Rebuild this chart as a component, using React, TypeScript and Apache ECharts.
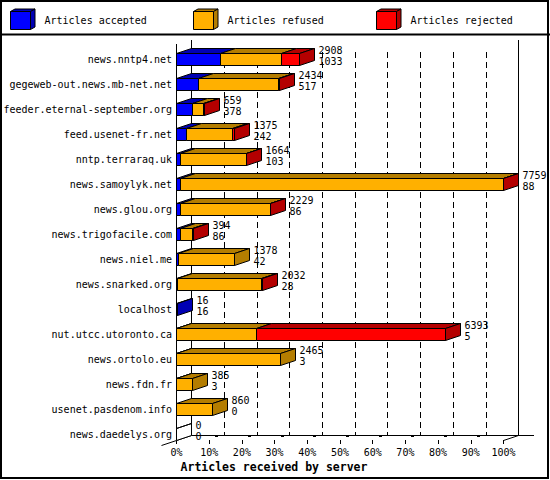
import { useEffect, useRef } from 'react';
import * as echarts from 'echarts';

const servers = [
  'news.nntp4.net',
  'gegeweb-out.news.mb-net.net',
  'feeder.eternal-september.org',
  'feed.usenet-fr.net',
  'nntp.terraraq.uk',
  'news.samoylyk.net',
  'news.glou.org',
  'news.trigofacile.com',
  'news.niel.me',
  'news.snarked.org',
  'localhost',
  'nut.utcc.utoronto.ca',
  'news.ortolo.eu',
  'news.fdn.fr',
  'usenet.pasdenom.info',
  'news.daedelys.org',
];
const accepted = [1033, 517, 378, 242, 103, 88, 86, 86, 42, 28, 16, 5, 3, 3, 0, 0];
const refused = [1447, 1907, 269, 1088, 1556, 7663, 2138, 300, 1336, 1994, 0, 1891, 2462, 382, 860, 0];
const rejected = [428, 10, 12, 45, 5, 8, 5, 8, 0, 10, 0, 4497, 0, 0, 0, 0];
const legendNames = ['Articles accepted', 'Articles refused', 'Articles rejected'];
const floorTicks = [10, 20, 30, 40, 50, 60, 70, 80, 90];
const frontColors = ['#0000ff', '#ffb000', '#ff0000'];
const darkColors = ['#0000b4', '#b47d00', '#b40000'];

// 3d look
const DX = 15;
const DY = 5;
const BAR_H = 11.5;
const FONT = "'DejaVu Sans Mono', monospace";

const snap = (v: number) => Math.round(v - 0.5) + 0.5;

const totals = servers.map((_, i) => accepted[i] + refused[i] + rejected[i]);
const maxTotal = Math.max(...totals);
const pct = (v: number) => (v / maxTotal) * 100;

function segmentData(k: number) {
  return servers.map((_, i) => {
    const parts = [accepted[i], refused[i], rejected[i]];
    let start = 0;
    for (let j = 0; j < k; j++) start += parts[j];
    return [pct(start), pct(start + parts[k]), i, parts[k]];
  });
}

const sideData = servers.map((_, i) => {
  const parts = [accepted[i], refused[i], rejected[i]];
  let last = -1;
  parts.forEach((p, j) => {
    if (p > 0) last = j;
  });
  return [pct(totals[i]), i, last, totals[i], accepted[i]];
});

function segmentRenderer(k: number) {
  return (_params: any, api: any) => {
    if (api.value(3) <= 0) return null;
    const cat = api.value(2);
    const p0 = api.coord([api.value(0), cat]);
    const p1 = api.coord([api.value(1), cat]);
    const x0 = snap(p0[0]);
    const x1 = snap(p1[0]);
    const yt = snap(p0[1] - BAR_H / 2);
    const yb = snap(p0[1] + BAR_H / 2);
    return {
      type: 'group',
      children: [
        {
          type: 'polygon',
          shape: { points: [[x0, yt], [x1, yt], [x1 + DX, yt - DY], [x0 + DX, yt - DY]] },
          style: { fill: darkColors[k], stroke: '#000', lineWidth: 1 },
        },
        {
          type: 'rect',
          shape: { x: x0, y: yt, width: x1 - x0, height: yb - yt },
          style: { fill: frontColors[k], stroke: '#000', lineWidth: 1 },
        },
      ],
    };
  };
}

function sideRenderer(_params: any, api: any) {
  const cat = api.value(1);
  const p = api.coord([api.value(0), cat]);
  const x = snap(p[0]);
  const yt = snap(p[1] - BAR_H / 2);
  const yb = snap(p[1] + BAR_H / 2);
  const idx = api.value(2);
  const children: any[] = [
    {
      type: 'polygon',
      shape: { points: [[x, yt], [x + DX, yt - DY], [x + DX, yb - DY], [x, yb]] },
      style: { fill: idx >= 0 ? darkColors[idx] : '#fff', stroke: '#000', lineWidth: 1 },
    },
  ];
  if (idx < 0) {
    children.push({
      type: 'line',
      shape: { x1: x, y1: yt, x2: x + DX, y2: yt - DY },
      style: { stroke: '#000', lineWidth: 1 },
    });
  }
  children.push(
    {
      type: 'text',
      x: x + DX + 4,
      y: p[1] - 9,
      style: { text: String(api.value(3)), font: `10px ${FONT}`, fill: '#000', verticalAlign: 'middle' },
    },
    {
      type: 'text',
      x: x + DX + 4,
      y: p[1] + 1.5,
      style: { text: String(api.value(4)), font: `10px ${FONT}`, fill: '#000', verticalAlign: 'middle' },
    }
  );
  return { type: 'group', children };
}

// little marks on the floor, half way back from each front tick
function floorTickRenderer(_params: any, api: any) {
  const p = api.coord([api.value(0), servers.length - 1]);
  const x = Math.round(p[0]);
  return {
    type: 'rect',
    shape: { x: x + 6, y: 435, width: 3, height: 2 },
    style: { fill: '#000' },
  };
}

function legendBox(k: number) {
  const x = 10.5 + k * 183;
  const y = 11.5;
  const w = 20;
  const h = 18;
  const dx = 4.5;
  const dy = 2.5;
  return {
    type: 'group',
    children: [
      {
        type: 'polygon',
        shape: { points: [[x, y], [x + w, y], [x + w + dx, y - dy], [x + dx, y - dy]] },
        style: { fill: darkColors[k], stroke: '#000', lineWidth: 1 },
      },
      {
        type: 'polygon',
        shape: { points: [[x + w, y], [x + w + dx, y - dy], [x + w + dx, y + h - dy], [x + w, y + h]] },
        style: { fill: darkColors[k], stroke: '#000', lineWidth: 1 },
      },
      {
        type: 'rect',
        shape: { x, y, width: w, height: h },
        style: { fill: frontColors[k], stroke: '#000', lineWidth: 1 },
      },
      {
        type: 'text',
        x: x + 34,
        y: 20.5,
        style: { text: legendNames[k], font: `10px ${FONT}`, fill: '#000', verticalAlign: 'middle' },
      },
    ],
  };
}

const line = (x1: number, y1: number, x2: number, y2: number, width = 1) => ({
  type: 'line',
  shape: { x1, y1, x2, y2 },
  style: { stroke: '#000', lineWidth: width },
  silent: true,
});

export default function App() {
  const ref = useRef<HTMLDivElement>(null);

  useEffect(() => {
    if (!ref.current) return;
    const chart = echarts.init(ref.current, undefined, { renderer: 'svg' });

    const option: any = {
      animation: false,
      backgroundColor: '#fff',
      grid: [
        { left: 176.5, right: 46.5, top: 47, bottom: 33 },
        { left: 191.5, right: 31.5, top: 52, bottom: 45 },
      ],
      xAxis: [
        {
          type: 'value',
          gridIndex: 0,
          min: 0,
          max: 100,
          interval: 10,
          offset: -7,
          axisLine: { show: false },
          axisTick: { show: true, length: 4, lineStyle: { color: '#000' } },
          splitLine: { show: false },
          axisLabel: {
            formatter: '{value}%',
            fontFamily: FONT,
            fontSize: 10,
            color: '#000',
            margin: 7,
          },
        },
        {
          type: 'value',
          gridIndex: 1,
          min: 0,
          max: 100,
          interval: 10,
          axisLine: { show: false },
          axisTick: { show: false },
          axisLabel: { show: false },
          splitLine: {
            show: true,
            showMinLine: false,
            showMaxLine: false,
            lineStyle: { color: '#000', width: 1, type: [6, 4] },
          },
        },
      ],
      yAxis: [
        {
          type: 'category',
          gridIndex: 0,
          data: servers,
          inverse: true,
          axisLine: { show: false },
          axisTick: { show: false },
          axisLabel: { fontFamily: FONT, fontSize: 10, color: '#000', margin: 4.5 },
        },
        {
          type: 'value',
          gridIndex: 1,
          show: false,
        },
      ],
      graphic: [
        {
          type: 'rect',
          shape: { x: 1, y: 1, width: 547, height: 477 },
          style: { fill: 'none', stroke: '#000', lineWidth: 2 },
          silent: true,
        },
        line(0, 34.5, 550, 34.5, 2),
        legendBox(0),
        legendBox(1),
        legendBox(2),
        line(191.5, 40, 191.5, 435.5),
        line(518.5, 40, 518.5, 435.5),
        line(176.5, 44, 176.5, 440),
        line(191.5, 435.5, 534, 435.5),
        line(161.5, 445.5, 191.5, 435.5),
        line(503.5, 440.5, 518.5, 435.5),
        {
          type: 'text',
          x: 274,
          y: 467,
          style: {
            text: 'Articles received by server',
            font: `bold 11.5px ${FONT}`,
            fill: '#000',
            align: 'center',
            verticalAlign: 'middle',
          },
          silent: true,
        },
      ],
      series: [
        ...[0, 1, 2].map((k) => ({
          name: legendNames[k],
          type: 'custom',
          xAxisIndex: 0,
          yAxisIndex: 0,
          renderItem: segmentRenderer(k),
          encode: { x: [0, 1], y: 2 },
          data: segmentData(k),
          z: 3,
        })),
        {
          name: 'totals',
          type: 'custom',
          xAxisIndex: 0,
          yAxisIndex: 0,
          renderItem: sideRenderer,
          encode: { x: 0, y: 1 },
          data: sideData,
          z: 4,
        },
        {
          name: 'floor ticks',
          type: 'custom',
          xAxisIndex: 0,
          yAxisIndex: 0,
          renderItem: floorTickRenderer,
          encode: { x: 0 },
          data: floorTicks.map((v) => [v]),
          z: 2,
        },
      ],
    };

    chart.setOption(option);

    return () => {
      chart.dispose();
    };
  }, []);

  return (
    <div
      ref={ref}
      style={{ position: 'absolute', left: 0, top: 0, width: '550px', height: '480px' }}
    />
  );
}
